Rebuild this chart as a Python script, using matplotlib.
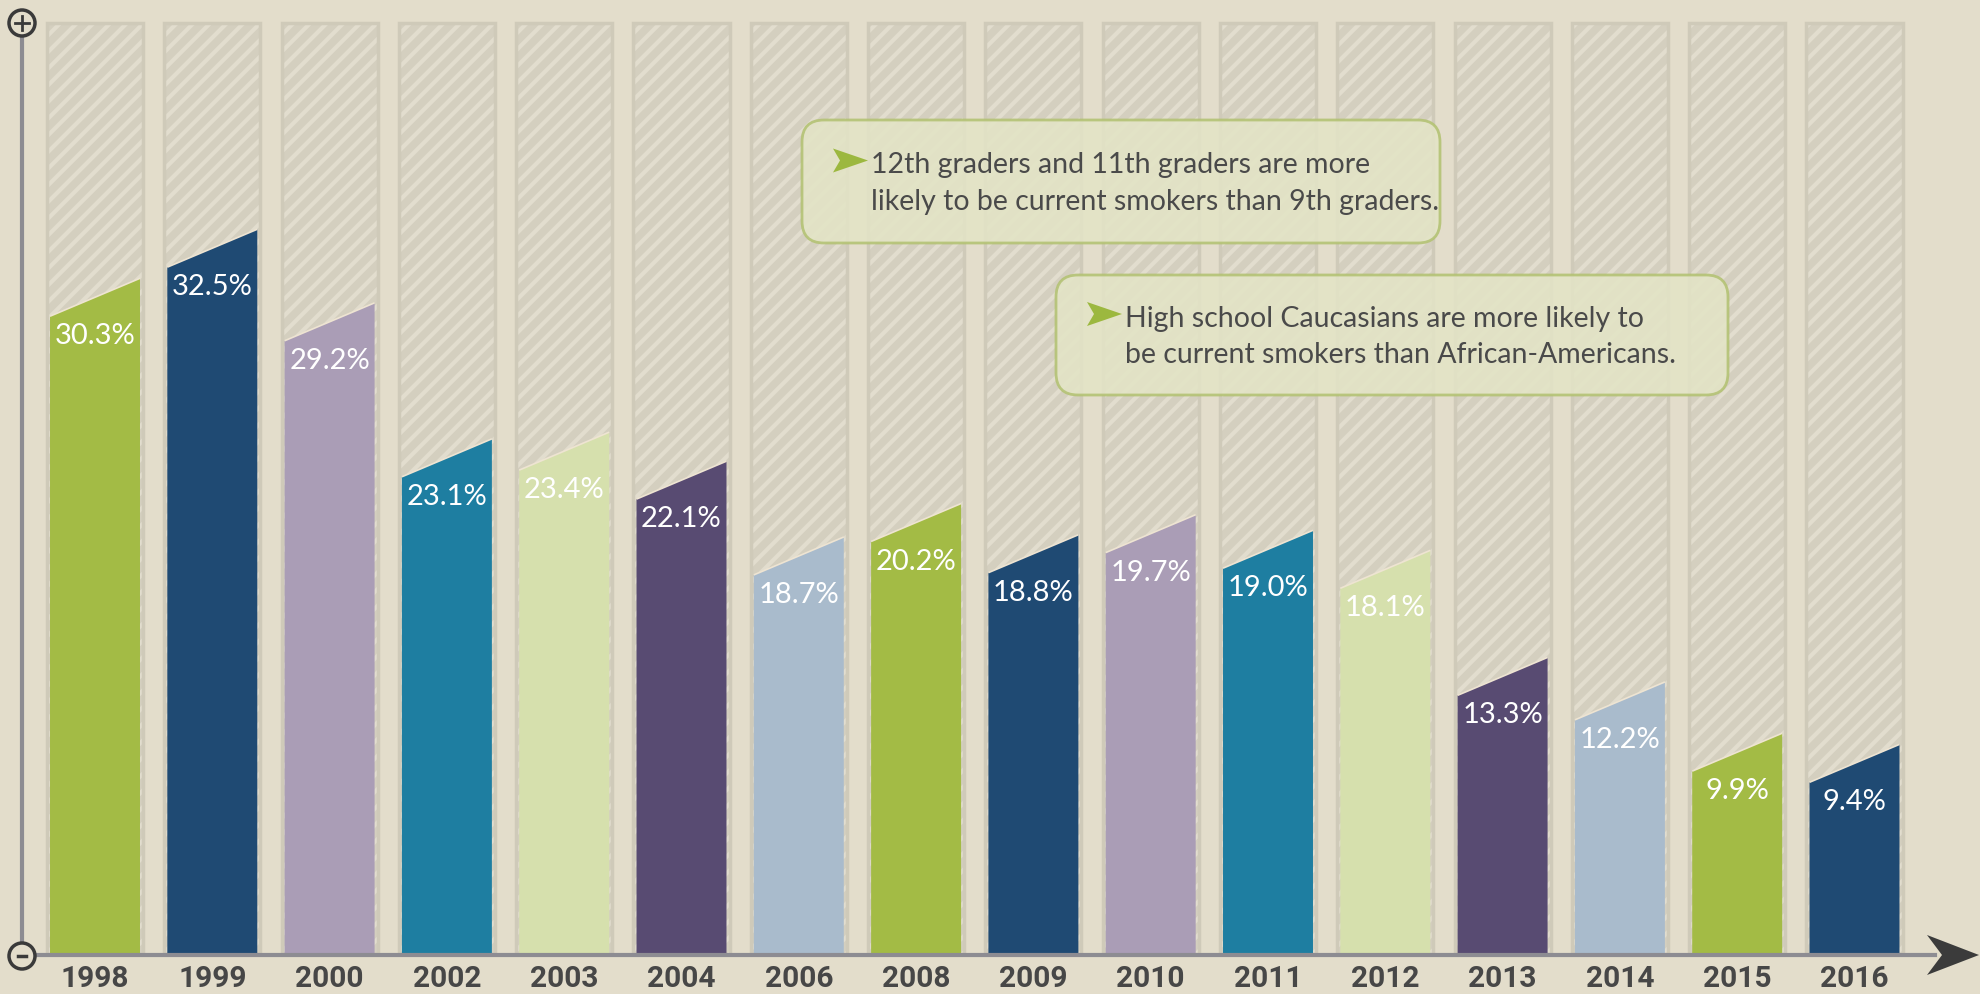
import matplotlib.pyplot as plt
from matplotlib.patches import FancyBboxPatch, Polygon, Circle
from matplotlib.lines import Line2D
from matplotlib.transforms import IdentityTransform

# data
years = ['1998', '1999', '2000', '2002', '2003', '2004', '2006', '2008',
         '2009', '2010', '2011', '2012', '2013', '2014', '2015', '2016']
rates = [30.3, 32.5, 29.2, 23.1, 23.4, 22.1, 18.7, 20.2,
         18.8, 19.7, 19.0, 18.1, 13.3, 12.2, 9.9, 9.4]
rate_labels = [f'{r:.1f}%' for r in rates]
palette = ['#a3bb45', '#1f4a73', '#aa9db6', '#1e7ea1', '#d6e0ad', '#584b72', '#a9bbcc']
notes = ['12th graders and 11th graders are more\nlikely to be current smokers than 9th graders.',
         'High school Caucasians are more likely to\nbe current smokers than African-Americans.']

W, H = 1981, 994
BG = '#e3ddcb'
TEXT_FONT = ['Lato', 'DejaVu Sans']
YEAR_FONT = ['Roboto', 'DejaVu Sans']

plt.rcParams['hatch.linewidth'] = 3.0

fig = plt.figure(figsize=(W / 100, H / 100), dpi=100, facecolor=BG)
ax = fig.add_axes([0, 0, 1, 1])
ax.set_facecolor(BG)
# x: bar index, y: percent  (bar centres at 95 + 117.3*i px, baseline at 954 px)
ax.set_xlim(-95 / 117.3, (W - 95) / 117.3)
ax.set_ylim(-40 / 22.3, 954 / 22.3)
ax.axis('off')

x = list(range(len(years)))
track_top = 41.75
slant = 1.7
bar_w = 0.767

# striped background tracks
ax.bar(x, [track_top] * len(x), width=0.82, align='center', color='#d4cfbf',
       edgecolor='#e2ddce', hatch='//', linewidth=0, zorder=1)
ax.bar(x, [track_top] * len(x), width=0.82, align='center', fill=False,
       edgecolor='#cfcab9', linewidth=2.5, zorder=1.5)

# coloured bars with slanted tops
for i, (v, lab) in enumerate(zip(rates, rate_labels)):
    c = palette[i % len(palette)]
    xs = [i - bar_w / 2, i + bar_w / 2, i + bar_w / 2, i - bar_w / 2]
    ys = [0, 0, v, v - slant]
    ax.fill(xs, ys, color=c, zorder=2, linewidth=0)
    ax.plot([i - bar_w / 2, i + bar_w / 2], [v - slant, v], color='#eee4d2',
            lw=1.2, zorder=2.5, solid_capstyle='butt')
    ax.text(i, v - slant - 0.9, lab, ha='center', va='center', color='white',
            fontsize=21, family=TEXT_FONT, zorder=3)
    ax.text(i, -1.1, years[i], ha='center', va='center', color='#474747',
            fontsize=21.5, fontweight='bold', family=YEAR_FONT, zorder=3)


# decorations in pixel coordinates (y measured from top)
def P(px, py):
    return (px, H - py)


T = IdentityTransform()
axis_col = '#8d8c92'
fig.add_artist(Line2D([22, 22], [H - 36, H - 942], color=axis_col, lw=3, transform=T))
fig.add_artist(Line2D([35, 1935], [H - 955, H - 955], color=axis_col, lw=3, transform=T))
for cy in (23, 956):
    fig.add_artist(Circle(P(22, cy), 13, facecolor=BG, edgecolor='#3a3a3a',
                          lw=2.5, transform=T, zorder=5))
fig.add_artist(Line2D([15, 29], [H - 23, H - 23], color='#3a3a3a', lw=2, transform=T, zorder=6))
fig.add_artist(Line2D([22, 22], [H - 16, H - 30], color='#3a3a3a', lw=2, transform=T, zorder=6))
fig.add_artist(Line2D([18, 26], [H - 956, H - 956], color='#3a3a3a', lw=2.5, transform=T, zorder=6))
fig.add_artist(Polygon([P(1979, 955), P(1927, 935), P(1942, 955), P(1927, 975)],
                       closed=True, facecolor='#3b3b3b', edgecolor='none', transform=T, zorder=5))

# note boxes
boxes = [(802, 120, 638, 123), (1056, 275, 672, 120)]
for (bx, by, bw, bh), note in zip(boxes, notes):
    fig.add_artist(FancyBboxPatch(P(bx, by + bh), bw, bh,
                                  boxstyle='round,pad=0,rounding_size=22',
                                  facecolor='#e3e4c6', alpha=0.88, edgecolor='#b3c273',
                                  lw=2, transform=T, zorder=6))
    tx = bx + 69
    ty = by + bh / 2 + 2
    mx, my = tx - 3, by + bh / 2 - 21
    fig.add_artist(Polygon([P(mx, my), P(mx - 35, my - 12), P(mx - 28, my), P(mx - 35, my + 12)],
                           closed=True, facecolor='#9cb83f', edgecolor='none', transform=T, zorder=7))
    fig.text(tx / W, 1 - ty / H, note, ha='left', va='center', color='#4a4a4a',
             fontsize=20.5, family=TEXT_FONT, linespacing=1.5, zorder=7)

fig.savefig('out.png', dpi=100, facecolor=BG)
